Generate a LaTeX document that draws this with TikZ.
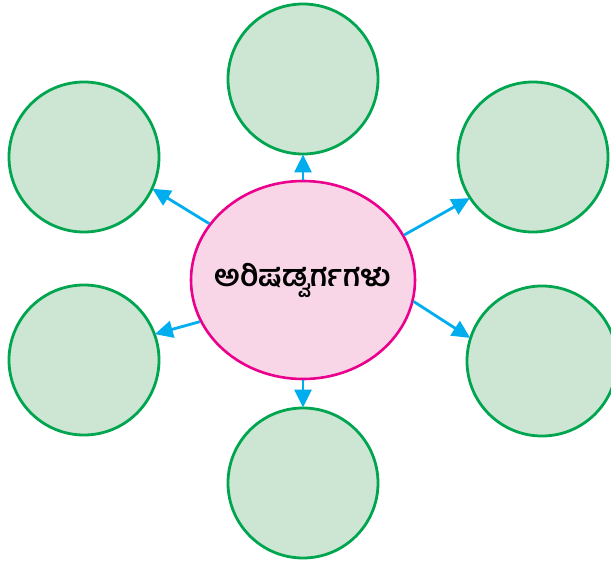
\documentclass[tikz,border=0pt]{standalone}
\usepackage{fontspec}
\newfontfamily\kannadafont[Script=Kannada]{Hind Mysuru}
\usetikzlibrary{
	arrows.meta,
	shapes.geometric,
}
\definecolor{corefill}{RGB}{249,214,231}
\definecolor{coreline}{RGB}{234,0,140}
\definecolor{leaffill}{RGB}{205,230,211}
\definecolor{leafline}{RGB}{0,165,80}
\definecolor{spoke}{RGB}{0,174,239}
\tikzset{
	core/.style={ellipse, draw=coreline, fill=corefill, line width=2.6pt,
		minimum width=224pt, minimum height=198pt, inner sep=0pt},
	leaf/.style={circle, draw=leafline, fill=leaffill, line width=2.8pt,
		minimum size=150pt, inner sep=0pt},
	spokearrow/.style={draw=spoke, line width=2.8pt,
		-{Triangle[length=18pt,width=17pt]}, shorten >=-1pt},
}
\begin{document}
\begin{tikzpicture}[x=1pt,y=1pt]
		\useasboundingbox (0,0) rectangle (611,-565);
		\node [core] (hub) at (303,-280) {\makebox[0pt]{\raisebox{10pt}{\kannadafont\bfseries\fontsize{30}{34}\selectfont ಅರಿಷಡ್ವರ್ಗಗಳು}}};
		\node [leaf] (top) at (303,-79) {};
		\node [leaf] (upleft) at (84,-157) {};
		\node [leaf] (upright) at (533,-157) {};
		\node [leaf] (lowleft) at (84,-360) {};
		\node [leaf] (lowright) at (542,-361) {};
		\node [leaf] (bottom) at (303,-483) {};
		\draw [spokearrow] (hub.90) -- (top.270);
		\draw [spokearrow] (hub.270) -- (bottom.90);
		\draw [spokearrow] (hub.149) -- (upleft.335);
		\draw [spokearrow] (hub.24) -- (upright.213);
		\draw [spokearrow] (hub.202) -- (lowleft.20);
		\draw [spokearrow] (hub.-11) -- (lowright.162);
\end{tikzpicture}
\end{document}
